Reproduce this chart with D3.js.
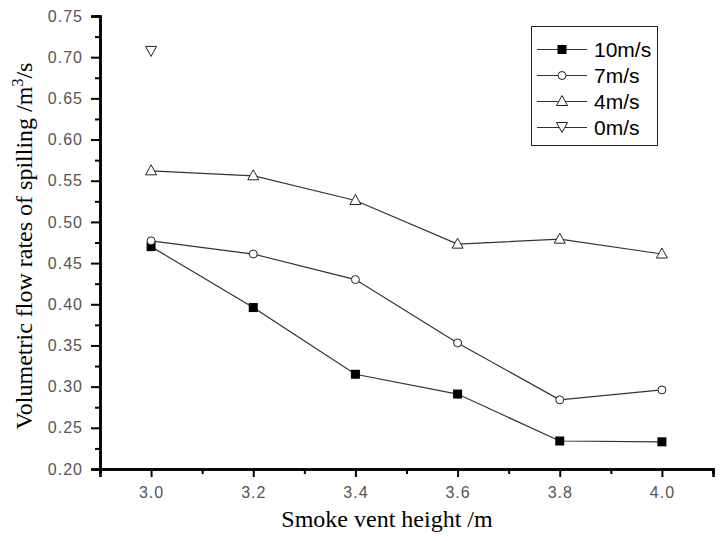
<!DOCTYPE html>
<html><head><meta charset="utf-8">
<script src="https://cdn.jsdelivr.net/npm/d3@7"></script>
<style>body{margin:0;background:#fff}svg{display:block}</style>
</head><body>
<script>
const heights = [3.0, 3.2, 3.4, 3.6, 3.8, 4.0];
const v10 = [0.470, 0.396, 0.315, 0.291, 0.234, 0.233];
const v7 = [0.477, 0.461, 0.430, 0.353, 0.284, 0.296];
const v4 = [0.562, 0.556, 0.526, 0.473, 0.479, 0.461];
const v0 = [0.707];
const seriesNames = ["10m/s", "7m/s", "4m/s", "0m/s"];
const xTicks = [3.0, 3.2, 3.4, 3.6, 3.8, 4.0];
const yTicks = [0.20, 0.25, 0.30, 0.35, 0.40, 0.45, 0.50, 0.55, 0.60, 0.65, 0.70, 0.75];

const W = 720, H = 541;
const svg = d3.select("body").append("svg").attr("width", W).attr("height", H);
const x = d3.scaleLinear().domain([2.9, 4.1]).range([100, 713]);
const y = d3.scaleLinear().domain([0.20, 0.75]).range([469, 16]);

const series = [
  {name: seriesNames[0], vals: v10, sym: "square"},
  {name: seriesNames[1], vals: v7, sym: "circle"},
  {name: seriesNames[2], vals: v4, sym: "up"},
  {name: seriesNames[3], vals: v0, sym: "down"}
];

function drawSym(g, sym, cx, cy) {
  if (sym === "square") {
    g.append("rect").attr("x", cx - 4.5).attr("y", cy - 4.5).attr("width", 9).attr("height", 9).attr("fill", "#000");
  } else if (sym === "circle") {
    g.append("circle").attr("cx", cx).attr("cy", cy).attr("r", 4).attr("fill", "#fff").attr("stroke", "#222").attr("stroke-width", 1);
  } else if (sym === "up") {
    g.append("path").attr("d", `M${cx},${cy-6}L${cx+5.5},${cy+4}L${cx-5.5},${cy+4}Z`).attr("fill", "#fff").attr("stroke", "#222").attr("stroke-width", 1);
  } else {
    g.append("path").attr("d", `M${cx},${cy+5}L${cx+5.5},${cy-5}L${cx-5.5},${cy-5}Z`).attr("fill", "#fff").attr("stroke", "#222").attr("stroke-width", 1);
  }
}

// axes
const gx = svg.append("g").attr("transform", "translate(0,469)");
gx.call(d3.axisBottom(x).tickValues(xTicks).tickFormat(d3.format(".1f")).tickSize(8).tickPadding(10));
gx.append("g").call(d3.axisBottom(x).tickValues([2.9, 3.1, 3.3, 3.5, 3.7, 3.9, 4.1]).tickSize(5).tickFormat(""));
const gy = svg.append("g").attr("transform", "translate(100,0)");
gy.call(d3.axisLeft(y).tickValues(yTicks).tickFormat(d3.format(".2f")).tickSize(9).tickPadding(8));
gy.append("g").call(d3.axisLeft(y).tickValues(d3.range(0.225, 0.75, 0.05)).tickSize(5).tickFormat(""));
svg.selectAll(".domain").attr("stroke", "#000").attr("stroke-width", 2.5);
svg.selectAll(".tick line").attr("stroke", "#000").attr("stroke-width", 2);
svg.selectAll(".tick text").attr("fill", "#555").style("font-family", "'Liberation Sans', Arial, sans-serif").style("font-size", "16px").style("letter-spacing", "1px");

// lines
const line = d3.line().x((d, i) => x(heights[i])).y(d => y(d));
series.forEach(s => {
  if (s.vals.length > 1) {
    svg.append("path").attr("d", line(s.vals)).attr("fill", "none").attr("stroke", "#333").attr("stroke-width", 1.2);
  }
});
series.forEach(s => {
  const g = svg.append("g");
  s.vals.forEach((v, i) => drawSym(g, s.sym, x(heights[i]), y(v)));
});

// legend
const lg = svg.append("g");
lg.append("rect").attr("x", 531.5).attr("y", 26.5).attr("width", 126).attr("height", 119).attr("fill", "#fff").attr("stroke", "#222").attr("stroke-width", 1);
series.forEach((s, i) => {
  const cy = 49.5 + i * 26;
  lg.append("line").attr("x1", 537).attr("x2", 587).attr("y1", cy).attr("y2", cy).attr("stroke", "#333").attr("stroke-width", 1.2);
  drawSym(lg, s.sym, 562, cy);
  lg.append("text").attr("x", 594).attr("y", cy + 7.5).text(s.name).attr("fill", "#000")
    .style("font-family", "'Liberation Sans', Arial, sans-serif").style("font-size", "21px");
});

// titles
svg.append("text").attr("x", 387).attr("y", 527).attr("text-anchor", "middle")
  .style("font-family", "'Liberation Serif', 'Times New Roman', serif").style("font-size", "24px").text("Smoke vent height /m");
const yt = svg.append("text").attr("transform", "translate(32,246) rotate(-90)").attr("text-anchor", "middle")
  .style("font-family", "'Liberation Serif', 'Times New Roman', serif").style("font-size", "24px");
yt.append("tspan").text("Volumetric flow rates of spilling /m");
yt.append("tspan").attr("dy", -9).style("font-size", "16px").text("3");
yt.append("tspan").attr("dy", 9).text("/s");
</script>
</body></html>
